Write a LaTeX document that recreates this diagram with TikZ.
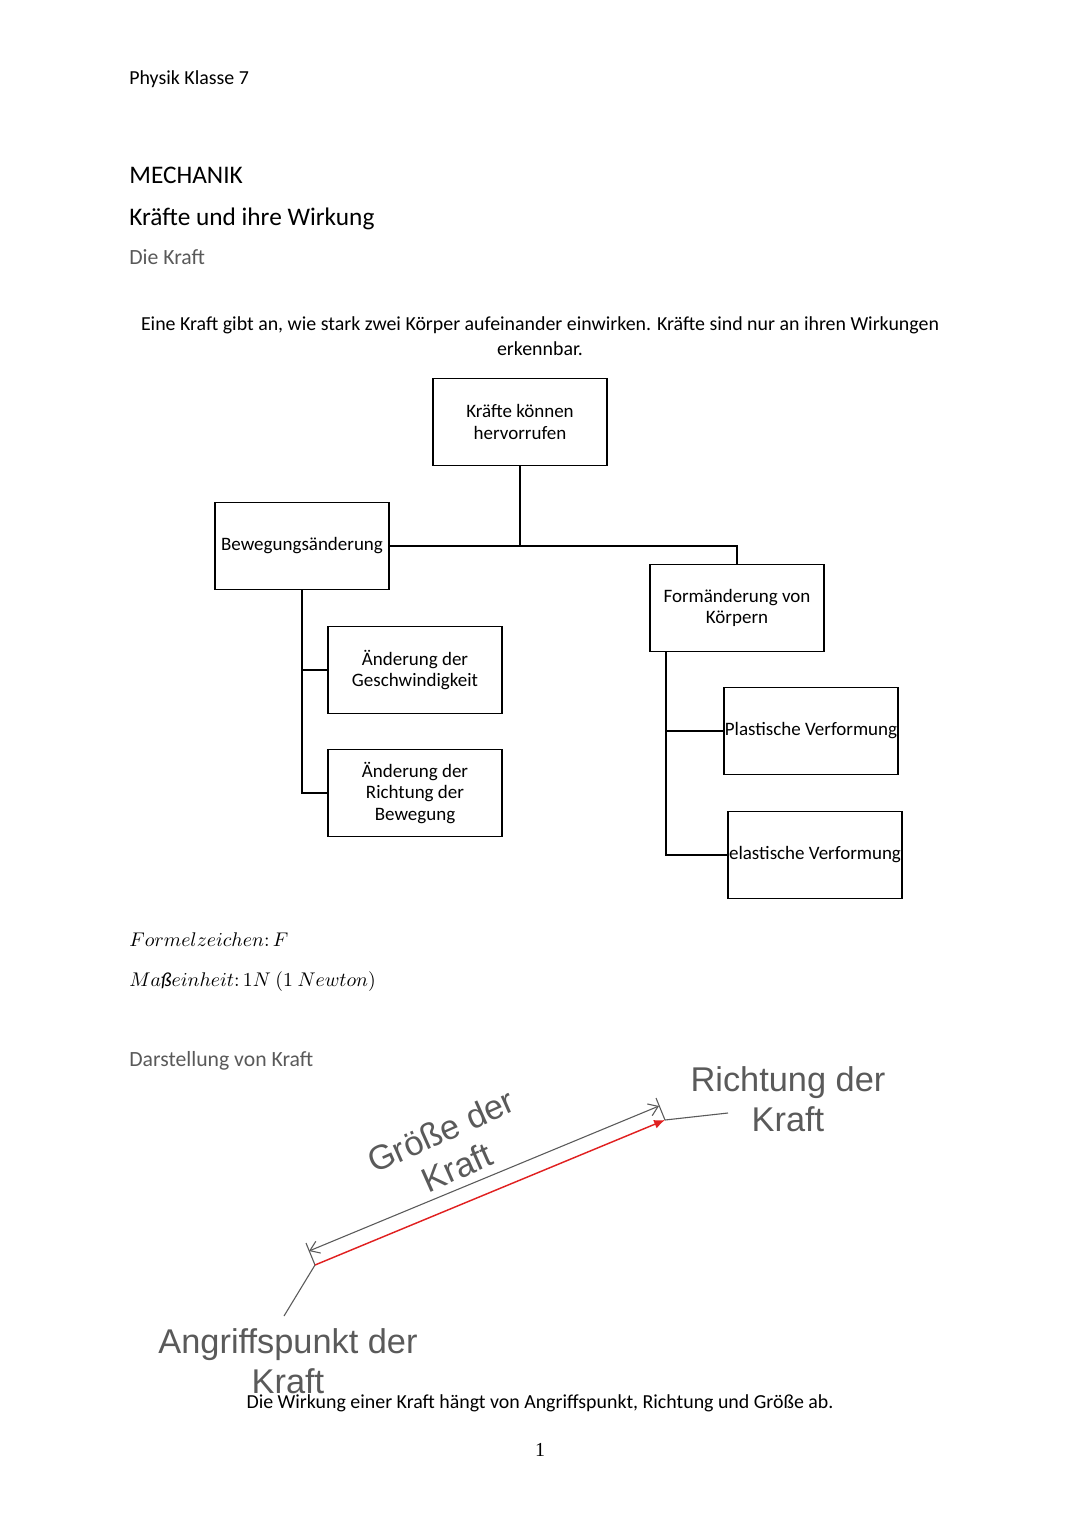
\documentclass[tikz,border=0pt]{standalone}
\usepackage{fontspec}
\setmainfont{Carlito}
\newfontfamily\pfeilfont{Liberation Sans}
\newfontfamily\seitefont{Liberation Serif}
\usepackage{tikz}
\usetikzlibrary{arrows.meta}
\definecolor{textgrau}{HTML}{595959}
\definecolor{pfeilgrau}{HTML}{5A5A5A}
\definecolor{kraftrot}{HTML}{E02020}

\tikzset{
  kasten/.style={draw, line width=1pt, minimum width=3.38cm, minimum height=1.69cm,
    inner sep=0pt, align=center, font=\fontsize{10.5}{12}\selectfont},
  linie/.style={line width=1pt},
  zeile/.style={inner sep=0pt, anchor=base west},
  beschriftung/.style={inner sep=0pt, align=center, text=pfeilgrau,
    font=\pfeilfont\fontsize{19}{22}\selectfont},
}

\begin{document}
\begin{tikzpicture}[x=0.019444cm, y=-0.019444cm]
    \useasboundingbox (0,0) rectangle (1080,1527);
    % Kopfzeile und Ueberschriften
    \node[zeile, font=\fontsize{11}{13}\selectfont] (kopf) at (129,84) {Physik Klasse 7};
    \node[zeile, font=\fontsize{14}{16}\selectfont] (mechanik) at (129,183) {MECHANIK};
    \node[zeile, font=\fontsize{14}{16}\selectfont] (thema) at (129,225) {Kräfte und ihre Wirkung};
    \node[zeile, font=\fontsize{12}{14}\selectfont, text=textgrau] (diekraft) at (129,264) {Die Kraft};
    \node[inner sep=0pt, align=center, font=\fontsize{11}{13.8}\selectfont] (satz) at (540,336)
        {Eine Kraft gibt an, wie stark zwei Körper aufeinander einwirken. Kräfte sind nur an ihren Wirkungen\\erkennbar.};
    % Kaesten
    \node[kasten] (kraefte) at (520,422) {Kräfte können\\hervorrufen};
    \node[kasten] (bewegung) at (302,546) {Bewegungsänderung};
    \node[kasten] (form) at (737,608) {Formänderung von\\Körpern};
    \node[kasten] (geschw) at (415,670) {Änderung der\\Geschwindigkeit};
    \node[kasten] (richtung) at (415,793) {Änderung der\\Richtung der\\Bewegung};
    \node[kasten] (plastisch) at (811,731) {Plastische Verformung};
    \node[kasten] (elastisch) at (815,855) {elastische Verformung};
    % Verbindungen
    \draw[linie] (kraefte.south) -- (kraefte.south |- bewegung.east);
    \draw[linie] (bewegung.east) -| (form.north);
    \draw[linie] (bewegung.south) |- (richtung.west);
    \draw[linie] (bewegung.south |- geschw.west) -- (geschw.west);
    \draw[linie] ([xshift=-1.38cm]form.south) |- (elastisch.west);
    \draw[linie] ([xshift=-1.38cm]form.south |- plastisch.west) -- (plastisch.west);
    % Formeln
    \node[zeile, font=\fontsize{11}{13}\selectfont] (zeichen) at (129,946) {$Formelzeichen\colon F$};
    \node[zeile, font=\fontsize{11}{13}\selectfont] (einheit) at (129,986) {$Ma\mbox{\itshape ß}einheit\colon 1N\ (1\ Newton)$};
    \node[zeile, font=\fontsize{12}{14}\selectfont, text=textgrau] (darstellung) at (129,1066) {Darstellung von Kraft};
    % Kraftpfeil
    \coordinate (angriff) at (315,1265);
    \coordinate (spitze) at (665,1120);
    \coordinate (hilfl) at (306,1243);
    \coordinate (hilfr) at (656,1098);
    \coordinate (massl) at (309,1251);
    \coordinate (massr) at (659,1106);
    \coordinate (fussl) at (284,1316);
    \coordinate (fussr) at (728,1113);
    \draw[pfeilgrau, line width=0.6pt] (angriff) -- (hilfl);
    \draw[pfeilgrau, line width=0.6pt] (spitze) -- (hilfr);
    \draw[pfeilgrau, line width=0.6pt, {Straight Barb[length=5pt,width=7pt]}-{Straight Barb[length=5pt,width=7pt]}] (massl) -- (massr);
    \draw[kraftrot, line width=0.8pt, -{Latex[length=6pt,width=5pt]}] (angriff) -- (spitze);
    \draw[pfeilgrau, line width=0.6pt] (angriff) -- (fussl);
    \draw[pfeilgrau, line width=0.6pt] (spitze) -- (fussr);
    \node[beschriftung, rotate=24] (groesse) at (449,1149) {Größe der\\Kraft};
    \node[beschriftung] (richtungtext) at (788,1099) {Richtung der\\Kraft};
    \node[beschriftung] (angrifftext) at (288,1361) {Angriffspunkt der\\Kraft};
    % Fusszeile
    \node[inner sep=0pt, anchor=base, font=\fontsize{11}{13}\selectfont] (wirkung) at (540,1408)
        {Die Wirkung einer Kraft hängt von Angriffspunkt, Richtung und Größe ab.};
    \node[inner sep=0pt, anchor=base, font=\seitefont\fontsize{11}{13}\selectfont] (seite) at (540,1456) {1};
\end{tikzpicture}
\end{document}
